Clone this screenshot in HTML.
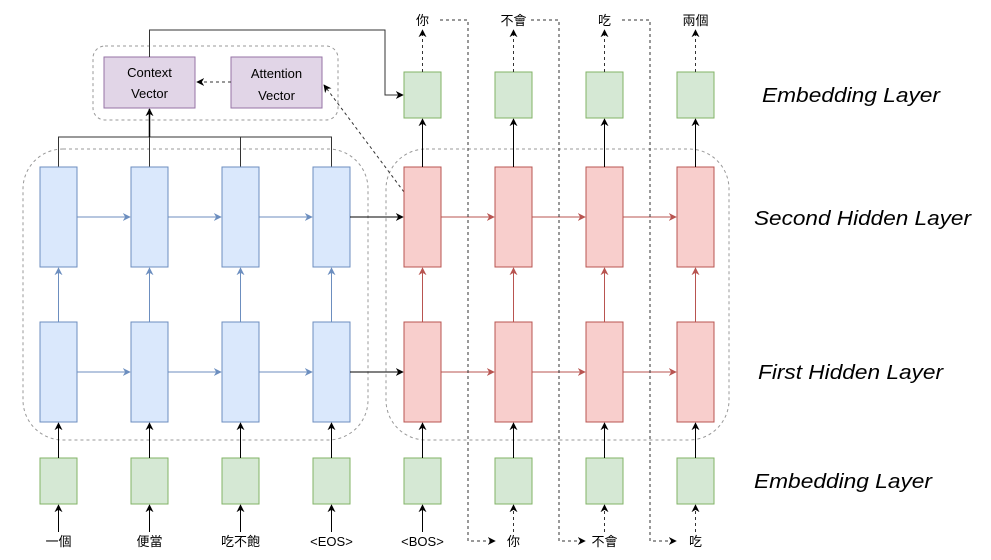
<!DOCTYPE html>
<html><head><meta charset="utf-8"><style>html,body{margin:0;padding:0;background:#fff}svg{display:block}</style></head><body>
<svg width="991" height="560" viewBox="0 0 991 560" xmlns="http://www.w3.org/2000/svg" font-family="'Liberation Sans','Noto Sans CJK TC',sans-serif">
<defs>
<marker id="ak" viewBox="0 0 10 10" refX="9" refY="5" markerWidth="8" markerHeight="8" orient="auto" markerUnits="userSpaceOnUse"><path d="M0,0 L10,5 L0,10 L3,5 z" fill="#000"/></marker>
<marker id="ab" viewBox="0 0 10 10" refX="9" refY="5" markerWidth="8" markerHeight="8" orient="auto" markerUnits="userSpaceOnUse"><path d="M0,0 L10,5 L0,10 L3,5 z" fill="#6c8ebf"/></marker>
<marker id="ar" viewBox="0 0 10 10" refX="9" refY="5" markerWidth="8" markerHeight="8" orient="auto" markerUnits="userSpaceOnUse"><path d="M0,0 L10,5 L0,10 L3,5 z" fill="#b85450"/></marker>
</defs>
<rect x="23" y="149" width="345" height="291" rx="40" fill="none" stroke="#999" stroke-dasharray="3,3"/>
<rect x="386" y="149" width="343" height="291" rx="40" fill="none" stroke="#999" stroke-dasharray="3,3"/>
<rect x="93" y="46" width="245" height="74" rx="12" fill="none" stroke="#999" stroke-dasharray="3,3"/>
<rect x="104" y="57" width="91" height="51" fill="#e1d5e7" stroke="#9673a6"/>
<text x="149.5" y="77" font-size="13" text-anchor="middle">Context</text>
<text x="149.5" y="98" font-size="13" text-anchor="middle">Vector</text>
<rect x="231" y="57" width="91" height="51" fill="#e1d5e7" stroke="#9673a6"/>
<text x="276.5" y="78" font-size="13" text-anchor="middle">Attention</text>
<text x="276.5" y="100" font-size="13" text-anchor="middle">Vector</text>
<line x1="231" y1="82" x2="197" y2="82" stroke="#333" stroke-dasharray="3,3" marker-end="url(#ak)"/>
<path d="M149.5,57 V30 H385 V95 H403" fill="none" stroke="#333" marker-end="url(#ak)"/>
<line x1="404" y1="192" x2="324" y2="85" stroke="#333" stroke-dasharray="3,3" marker-end="url(#ak)"/>
<path d="M58.5,167 V137 H331.5 V167 M149.5,167 V137 M240.5,167 V137" fill="none" stroke="#333"/>
<line x1="149.5" y1="137" x2="149.5" y2="109" stroke="#000" stroke-width="1.5" marker-end="url(#ak)"/>
<g fill="#dae8fc" stroke="#6c8ebf">
<rect x="40" y="167" width="37" height="100"/><rect x="131" y="167" width="37" height="100"/>
<rect x="222" y="167" width="37" height="100"/><rect x="313" y="167" width="37" height="100"/>
<rect x="40" y="322" width="37" height="100"/><rect x="131" y="322" width="37" height="100"/>
<rect x="222" y="322" width="37" height="100"/><rect x="313" y="322" width="37" height="100"/>
</g>
<g stroke="#6c8ebf">
<line x1="77" y1="217" x2="130" y2="217" marker-end="url(#ab)"/>
<line x1="168" y1="217" x2="221" y2="217" marker-end="url(#ab)"/>
<line x1="259" y1="217" x2="312" y2="217" marker-end="url(#ab)"/>
<line x1="77" y1="372" x2="130" y2="372" marker-end="url(#ab)"/>
<line x1="168" y1="372" x2="221" y2="372" marker-end="url(#ab)"/>
<line x1="259" y1="372" x2="312" y2="372" marker-end="url(#ab)"/>
<line x1="58.5" y1="322" x2="58.5" y2="268" marker-end="url(#ab)"/>
<line x1="149.5" y1="322" x2="149.5" y2="268" marker-end="url(#ab)"/>
<line x1="240.5" y1="322" x2="240.5" y2="268" marker-end="url(#ab)"/>
<line x1="331.5" y1="322" x2="331.5" y2="268" marker-end="url(#ab)"/>
</g>
<line x1="350" y1="217" x2="403" y2="217" stroke="#000" marker-end="url(#ak)"/>
<line x1="350" y1="372" x2="403" y2="372" stroke="#000" marker-end="url(#ak)"/>
<g fill="#f8cecc" stroke="#b85450">
<rect x="404" y="167" width="37" height="100"/><rect x="495" y="167" width="37" height="100"/>
<rect x="586" y="167" width="37" height="100"/><rect x="677" y="167" width="37" height="100"/>
<rect x="404" y="322" width="37" height="100"/><rect x="495" y="322" width="37" height="100"/>
<rect x="586" y="322" width="37" height="100"/><rect x="677" y="322" width="37" height="100"/>
</g>
<g stroke="#b85450">
<line x1="441" y1="217" x2="494" y2="217" marker-end="url(#ar)"/>
<line x1="532" y1="217" x2="585" y2="217" marker-end="url(#ar)"/>
<line x1="623" y1="217" x2="676" y2="217" marker-end="url(#ar)"/>
<line x1="441" y1="372" x2="494" y2="372" marker-end="url(#ar)"/>
<line x1="532" y1="372" x2="585" y2="372" marker-end="url(#ar)"/>
<line x1="623" y1="372" x2="676" y2="372" marker-end="url(#ar)"/>
<line x1="422.5" y1="322" x2="422.5" y2="268" marker-end="url(#ar)"/>
<line x1="513.5" y1="322" x2="513.5" y2="268" marker-end="url(#ar)"/>
<line x1="604.5" y1="322" x2="604.5" y2="268" marker-end="url(#ar)"/>
<line x1="695.5" y1="322" x2="695.5" y2="268" marker-end="url(#ar)"/>
</g>
<g fill="#d5e8d4" stroke="#82b366">
<rect x="40" y="458" width="37" height="46"/><rect x="131" y="458" width="37" height="46"/>
<rect x="222" y="458" width="37" height="46"/><rect x="313" y="458" width="37" height="46"/>
<rect x="404" y="458" width="37" height="46"/><rect x="495" y="458" width="37" height="46"/>
<rect x="586" y="458" width="37" height="46"/><rect x="677" y="458" width="37" height="46"/>
<rect x="404" y="72" width="37" height="46"/><rect x="495" y="72" width="37" height="46"/>
<rect x="586" y="72" width="37" height="46"/><rect x="677" y="72" width="37" height="46"/>
</g>
<g stroke="#000">
<line x1="58.5" y1="458" x2="58.5" y2="423" marker-end="url(#ak)"/>
<line x1="149.5" y1="458" x2="149.5" y2="423" marker-end="url(#ak)"/>
<line x1="240.5" y1="458" x2="240.5" y2="423" marker-end="url(#ak)"/>
<line x1="331.5" y1="458" x2="331.5" y2="423" marker-end="url(#ak)"/>
<line x1="422.5" y1="458" x2="422.5" y2="423" marker-end="url(#ak)"/>
<line x1="513.5" y1="458" x2="513.5" y2="423" marker-end="url(#ak)"/>
<line x1="604.5" y1="458" x2="604.5" y2="423" marker-end="url(#ak)"/>
<line x1="695.5" y1="458" x2="695.5" y2="423" marker-end="url(#ak)"/>
<line x1="422.5" y1="167" x2="422.5" y2="119" marker-end="url(#ak)"/>
<line x1="513.5" y1="167" x2="513.5" y2="119" marker-end="url(#ak)"/>
<line x1="604.5" y1="167" x2="604.5" y2="119" marker-end="url(#ak)"/>
<line x1="695.5" y1="167" x2="695.5" y2="119" marker-end="url(#ak)"/>
<line x1="58.5" y1="532" x2="58.5" y2="505" marker-end="url(#ak)"/>
<line x1="149.5" y1="532" x2="149.5" y2="505" marker-end="url(#ak)"/>
<line x1="240.5" y1="532" x2="240.5" y2="505" marker-end="url(#ak)"/>
<line x1="331.5" y1="532" x2="331.5" y2="505" marker-end="url(#ak)"/>
<line x1="422.5" y1="532" x2="422.5" y2="505" marker-end="url(#ak)"/>
</g>
<g stroke="#333" stroke-dasharray="3,3" fill="none">
<line x1="422.5" y1="72" x2="422.5" y2="30" marker-end="url(#ak)"/>
<line x1="513.5" y1="72" x2="513.5" y2="30" marker-end="url(#ak)"/>
<line x1="604.5" y1="72" x2="604.5" y2="30" marker-end="url(#ak)"/>
<line x1="695.5" y1="72" x2="695.5" y2="30" marker-end="url(#ak)"/>
<line x1="513.5" y1="532" x2="513.5" y2="505" marker-end="url(#ak)"/>
<line x1="604.5" y1="532" x2="604.5" y2="505" marker-end="url(#ak)"/>
<line x1="695.5" y1="532" x2="695.5" y2="505" marker-end="url(#ak)"/>
<path d="M440,20 H468 V541 H495" marker-end="url(#ak)"/>
<path d="M531,20 H559 V541 H585" marker-end="url(#ak)"/>
<path d="M622,20 H650 V541 H676" marker-end="url(#ak)"/>
</g>
<g font-size="13" text-anchor="middle" fill="#000">
<text x="422.5" y="25">你</text><text x="513.5" y="25">不會</text><text x="604.5" y="25">吃</text><text x="695.5" y="25">兩個</text>
<text x="58.5" y="546">一個</text><text x="149.5" y="546">便當</text><text x="240.5" y="546">吃不飽</text><text x="331.5" y="546">&lt;EOS&gt;</text>
<text x="422.5" y="546">&lt;BOS&gt;</text><text x="513.5" y="546">你</text><text x="604.5" y="546">不會</text><text x="695.5" y="546">吃</text>
</g>
<g font-size="20" font-style="italic" fill="#000">
<text x="762" y="102" textLength="178" lengthAdjust="spacingAndGlyphs">Embedding Layer</text>
<text x="754" y="225" textLength="217" lengthAdjust="spacingAndGlyphs">Second Hidden Layer</text>
<text x="758" y="379" textLength="185" lengthAdjust="spacingAndGlyphs">First Hidden Layer</text>
<text x="754" y="488" textLength="178" lengthAdjust="spacingAndGlyphs">Embedding Layer</text>
</g>
</svg>
</body></html>
